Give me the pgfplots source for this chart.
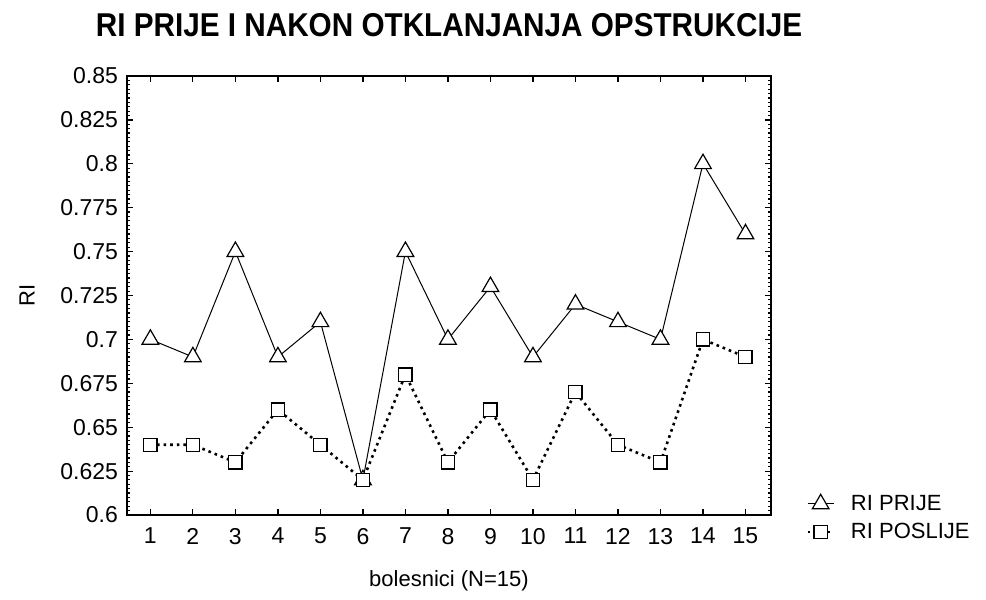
\documentclass[border=0pt]{standalone}
\usepackage{pgfplots}
\pgfplotsset{compat=1.18}
\usepackage{fontspec}
\setmainfont{Liberation Sans}
\begin{document}
\begin{tikzpicture}
\path (-63.5pt,-42.5pt) rectangle (429.5pt,257.5pt);
\begin{axis}[
    scale only axis,
    width=322pt, height=219.5pt,
    xmin=0.45, xmax=15.6,
    ymin=0.6, ymax=0.85,
    xtick={1,...,15},
    ytick={0.6,0.625,...,0.851},
    yticklabels={0.6,0.625,0.65,0.675,0.7,0.725,0.75,0.775,0.8,0.825,0.85},
    minor y tick num=9,
    tick align=inside,
    major tick length=3pt, minor tick length=1.5pt,
    every tick/.style={black, line width=0.6pt},
    axis line style={line width=0.8pt},
    /pgf/number format/assume math mode=true,
    tick label style={font=\fontsize{11.5}{13}\selectfont},
    xticklabel style={yshift=-3pt},
    yticklabel style={xshift=-1pt},
    xlabel={bolesnici (N=15)},
    ylabel={RI},
    label style={font=\fontsize{11}{13}\selectfont},
    xlabel style={yshift=-6pt},
    ylabel style={yshift=6pt},
    title={\scalebox{0.9}[1]{\bfseries\fontsize{16.5}{19}\selectfont RI PRIJE I NAKON OTKLANJANJA OPSTRUKCIJE}},
    title style={yshift=10pt},
    legend style={at={(1.045,0.065)}, anchor=north west, draw=none, fill=none,
        font=\fontsize{11}{13}\selectfont, row sep=1pt},
    legend cell align=left,
    legend image code/.code={\draw[mark repeat=2, mark phase=2, #1]
        plot coordinates {(0pt,0pt) (6.5pt,0pt) (13pt,0pt)};},
]
\addplot[black, line width=0.5pt, mark=triangle*, mark size=4.8pt,
    mark options={fill=white, solid, line width=0.6pt}] coordinates {
(1,0.70) (2,0.69) (3,0.75) (4,0.69) (5,0.71) (6,0.62) (7,0.75) (8,0.70)
(9,0.73) (10,0.69) (11,0.72) (12,0.71) (13,0.70) (14,0.80) (15,0.76)};
\addplot[black, line width=1.3pt, dotted, mark=square*, mark size=3.3pt,
    mark options={fill=white, solid, line width=0.6pt}] coordinates {
(1,0.64) (2,0.64) (3,0.63) (4,0.66) (5,0.64) (6,0.62) (7,0.68) (8,0.63)
(9,0.66) (10,0.62) (11,0.67) (12,0.64) (13,0.63) (14,0.70) (15,0.69)};
\legend{\hspace{6pt}RI PRIJE, \hspace{6pt}RI POSLIJE}
\end{axis}
\end{tikzpicture}
\end{document}
